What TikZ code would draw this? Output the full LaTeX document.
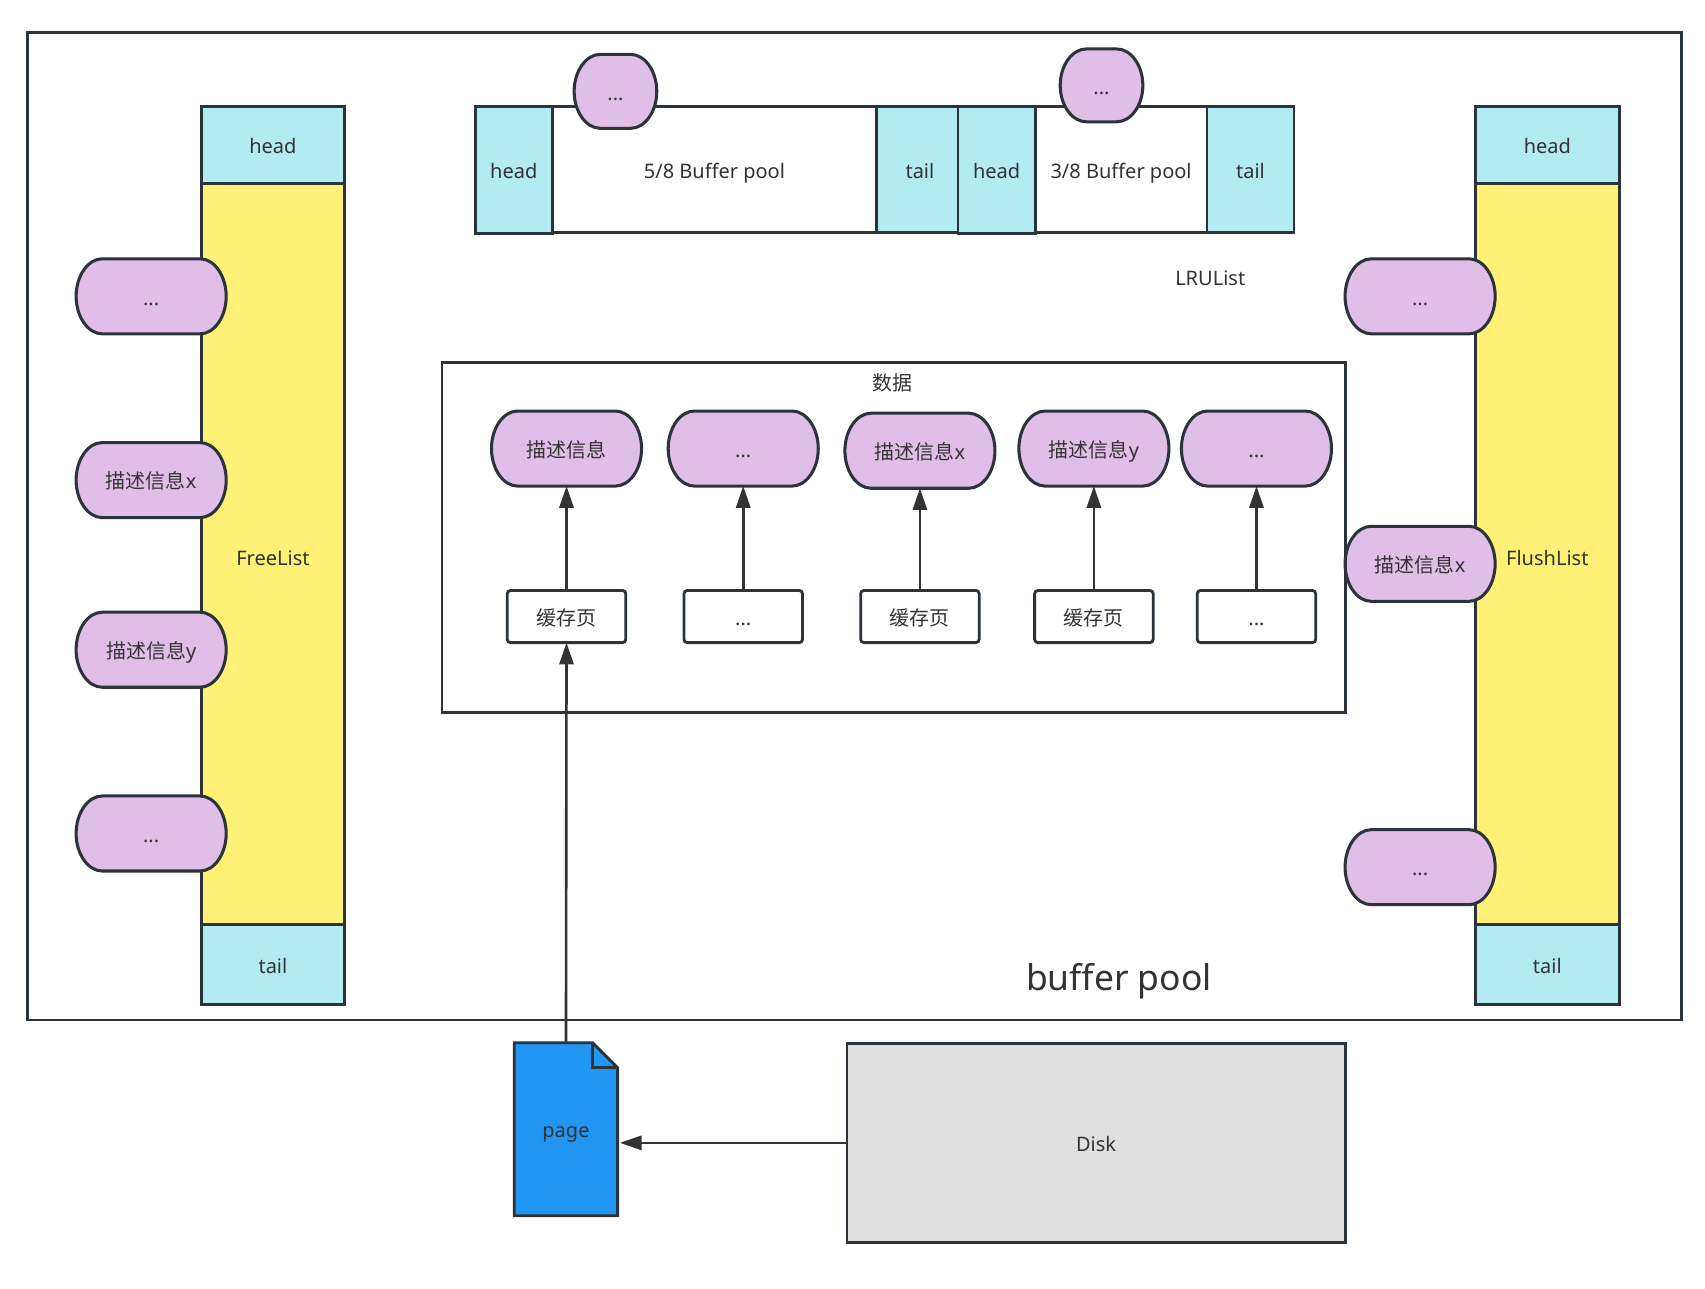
\documentclass[tikz,border=0pt]{standalone}
\usepackage{fontspec}
\setmainfont{Noto Sans}
\newfontfamily\cjk{Noto Sans CJK SC}
\usetikzlibrary{arrows.meta, positioning}

\definecolor{linecol}{HTML}{2B333B}
\definecolor{textcol}{HTML}{333333}
\definecolor{endcol}{HTML}{B2EBF2}
\definecolor{listcol}{HTML}{FFF176}
\definecolor{pillcol}{HTML}{E1BEE7}
\definecolor{pagecol}{HTML}{2196F3}
\definecolor{diskcol}{HTML}{E0E0E0}

\tikzset{
  box/.style={draw=linecol, line width=1.3pt, inner sep=0pt, outer sep=0pt, text=textcol,
    font=\fontsize{9.2pt}{11pt}\selectfont, text height=8.5pt, text depth=0.5pt},
  endbox/.style={box, fill=endcol},
  listbox/.style={box, fill=listcol},
  cachebox/.style={box, fill=white, rounded corners=1.5pt, minimum width=54.5pt, minimum height=24pt},
  pillline/.style={draw=linecol, line width=1.4pt, fill=pillcol},
  label/.style={inner sep=0pt, outer sep=0pt, text=textcol,
    font=\fontsize{9.2pt}{11pt}\selectfont, text height=8.5pt, text depth=0.5pt},
  flow/.style={draw=textcol, line width=1.2pt, -{Triangle[length=10pt, width=6.5pt]}}
}

% name, centre, half width, half height, text
\newcommand{\pillnode}[5]{%
  \draw[pillline, shift={(#2)}] (-#3,0)
    .. controls (-#3,-0.55*#4) and (-#3+11,-#4) .. (-#3+24,-#4)
    -- (#3-24,-#4)
    .. controls (#3-11,-#4) and (#3,-0.55*#4) .. (#3,0)
    .. controls (#3,0.55*#4) and (#3-11,#4) .. (#3-24,#4)
    -- (-#3+24,#4)
    .. controls (-#3+11,#4) and (-#3,0.55*#4) .. (-#3,0) -- cycle;
  \node[label, minimum width=#3pt, minimum height=#4pt] (#1) at (#2) {#5};
}

\begin{document}
\begin{tikzpicture}[x=0.5pt, y=-0.5pt]
\useasboundingbox (0,0) rectangle (1568,1185.4);

% Buffer pool frame
\node[box, minimum width=760.5pt, minimum height=454pt] (pool) at (785.5,484) {};
\node[label, font=\fontsize{16.3pt}{20pt}\selectfont] (poolname) at (1029,903) {buffer pool};

% FreeList
\node[listbox, minimum width=66pt, minimum height=340.5pt] (freebody) at (251,509.5) {};
\node[label] (freename) at (251,512) {FreeList};
\node[endbox, minimum width=66pt, minimum height=35.5pt] (freehead) at (251,133.5) {head};
\node[endbox, minimum width=66pt, minimum height=37pt] (freetail) at (251,887) {tail};
\pillnode{freeA}{139,272.5}{69}{34.5}{...}
\pillnode{freeB}{139,441.5}{69}{34.5}{{\cjk 描述信息}x}
\pillnode{freeC}{139,597.5}{69}{34.5}{{\cjk 描述信息}y}
\pillnode{freeD}{139,766.5}{69}{34.5}{...}

% FlushList
\node[listbox, minimum width=66pt, minimum height=340.5pt] (flushbody) at (1423,509.5) {};
\node[label] (flushname) at (1423,512) {FlushList};
\node[endbox, minimum width=66pt, minimum height=35.5pt] (flushhead) at (1423,133.5) {head};
\node[endbox, minimum width=66pt, minimum height=37pt] (flushtail) at (1423,887) {tail};
\pillnode{flushA}{1306,272.5}{69}{34.5}{...}
\pillnode{flushB}{1306,518.5}{69}{34.5}{{\cjk 描述信息}x}
\pillnode{flushC}{1306,797.5}{69}{34.5}{...}

% LRUList
\node[box, fill=white, minimum width=149pt, minimum height=58pt] (young) at (657,156) {5/8 Buffer pool};
\node[box, fill=white, minimum width=79pt, minimum height=58pt] (old) at (1031,156) {3/8 Buffer pool};
\node[endbox, minimum width=35.5pt, minimum height=58.5pt] (younghead) at (472.5,156.5) {head};
\node[endbox, minimum width=40pt, minimum height=58pt] (youngtail) at (846,156) {tail};
\node[endbox, minimum width=35.5pt, minimum height=58.5pt] (oldhead) at (916.5,156.5) {head};
\node[endbox, minimum width=40pt, minimum height=58pt] (oldtail) at (1150,156) {tail};
\pillnode{youngpill}{566,84}{38}{34}{...}
\pillnode{oldpill}{1013,78.5}{38}{33.5}{...}
\node[label] (lruname) at (1113,255) {LRUList};

% Data area
\node[box, minimum width=415.5pt, minimum height=161pt] (data) at (822,494) {};
\node[label] (dataname) at (821,351) {\cjk 数据};
\pillnode{descA}{521,412.5}{69}{34.5}{\cjk 描述信息}
\pillnode{descB}{683.5,412.5}{69}{34.5}{...}
\pillnode{descC}{846,414.5}{69}{34.5}{{\cjk 描述信息}x}
\pillnode{descD}{1006,412.5}{69}{34.5}{{\cjk 描述信息}y}
\pillnode{descE}{1155.5,412.5}{69}{34.5}{...}
\node[cachebox] (cacheA) at (521,567) {\cjk 缓存页};
\node[cachebox] (cacheB) at (683.5,567) {...};
\node[cachebox] (cacheC) at (846,567) {\cjk 缓存页};
\node[cachebox] (cacheD) at (1006,567) {\cjk 缓存页};
\node[cachebox] (cacheE) at (1155.5,567) {...};
\draw[flow] (cacheA.north) -- (descA.south);
\draw[flow] (cacheB.north) -- (descB.south);
\draw[flow] (cacheC.north) -- (descC.south);
\draw[flow] (cacheD.north) -- (descD.south);
\draw[flow] (cacheE.north) -- (descE.south);

% Page and disk
\draw[draw=linecol, line width=1.3pt, fill=pagecol] (473,959) -- (545,959) -- (568,982) -- (568,1118) -- (473,1118) -- cycle;
\draw[draw=linecol, line width=1.3pt] (545,959) -- (545,982) -- (568,982);
\node[label, minimum width=47.5pt, minimum height=79.5pt] (page) at (520.5,1038.5) {page};
\node[box, fill=diskcol, minimum width=229pt, minimum height=91.5pt] (disk) at (1008,1051) {Disk};
\draw[flow] (disk.west) -- ([xshift=1pt]disk.west -| page.east);
\draw[flow] (page.north) -- (cacheA.south);
\end{tikzpicture}
\end{document}
